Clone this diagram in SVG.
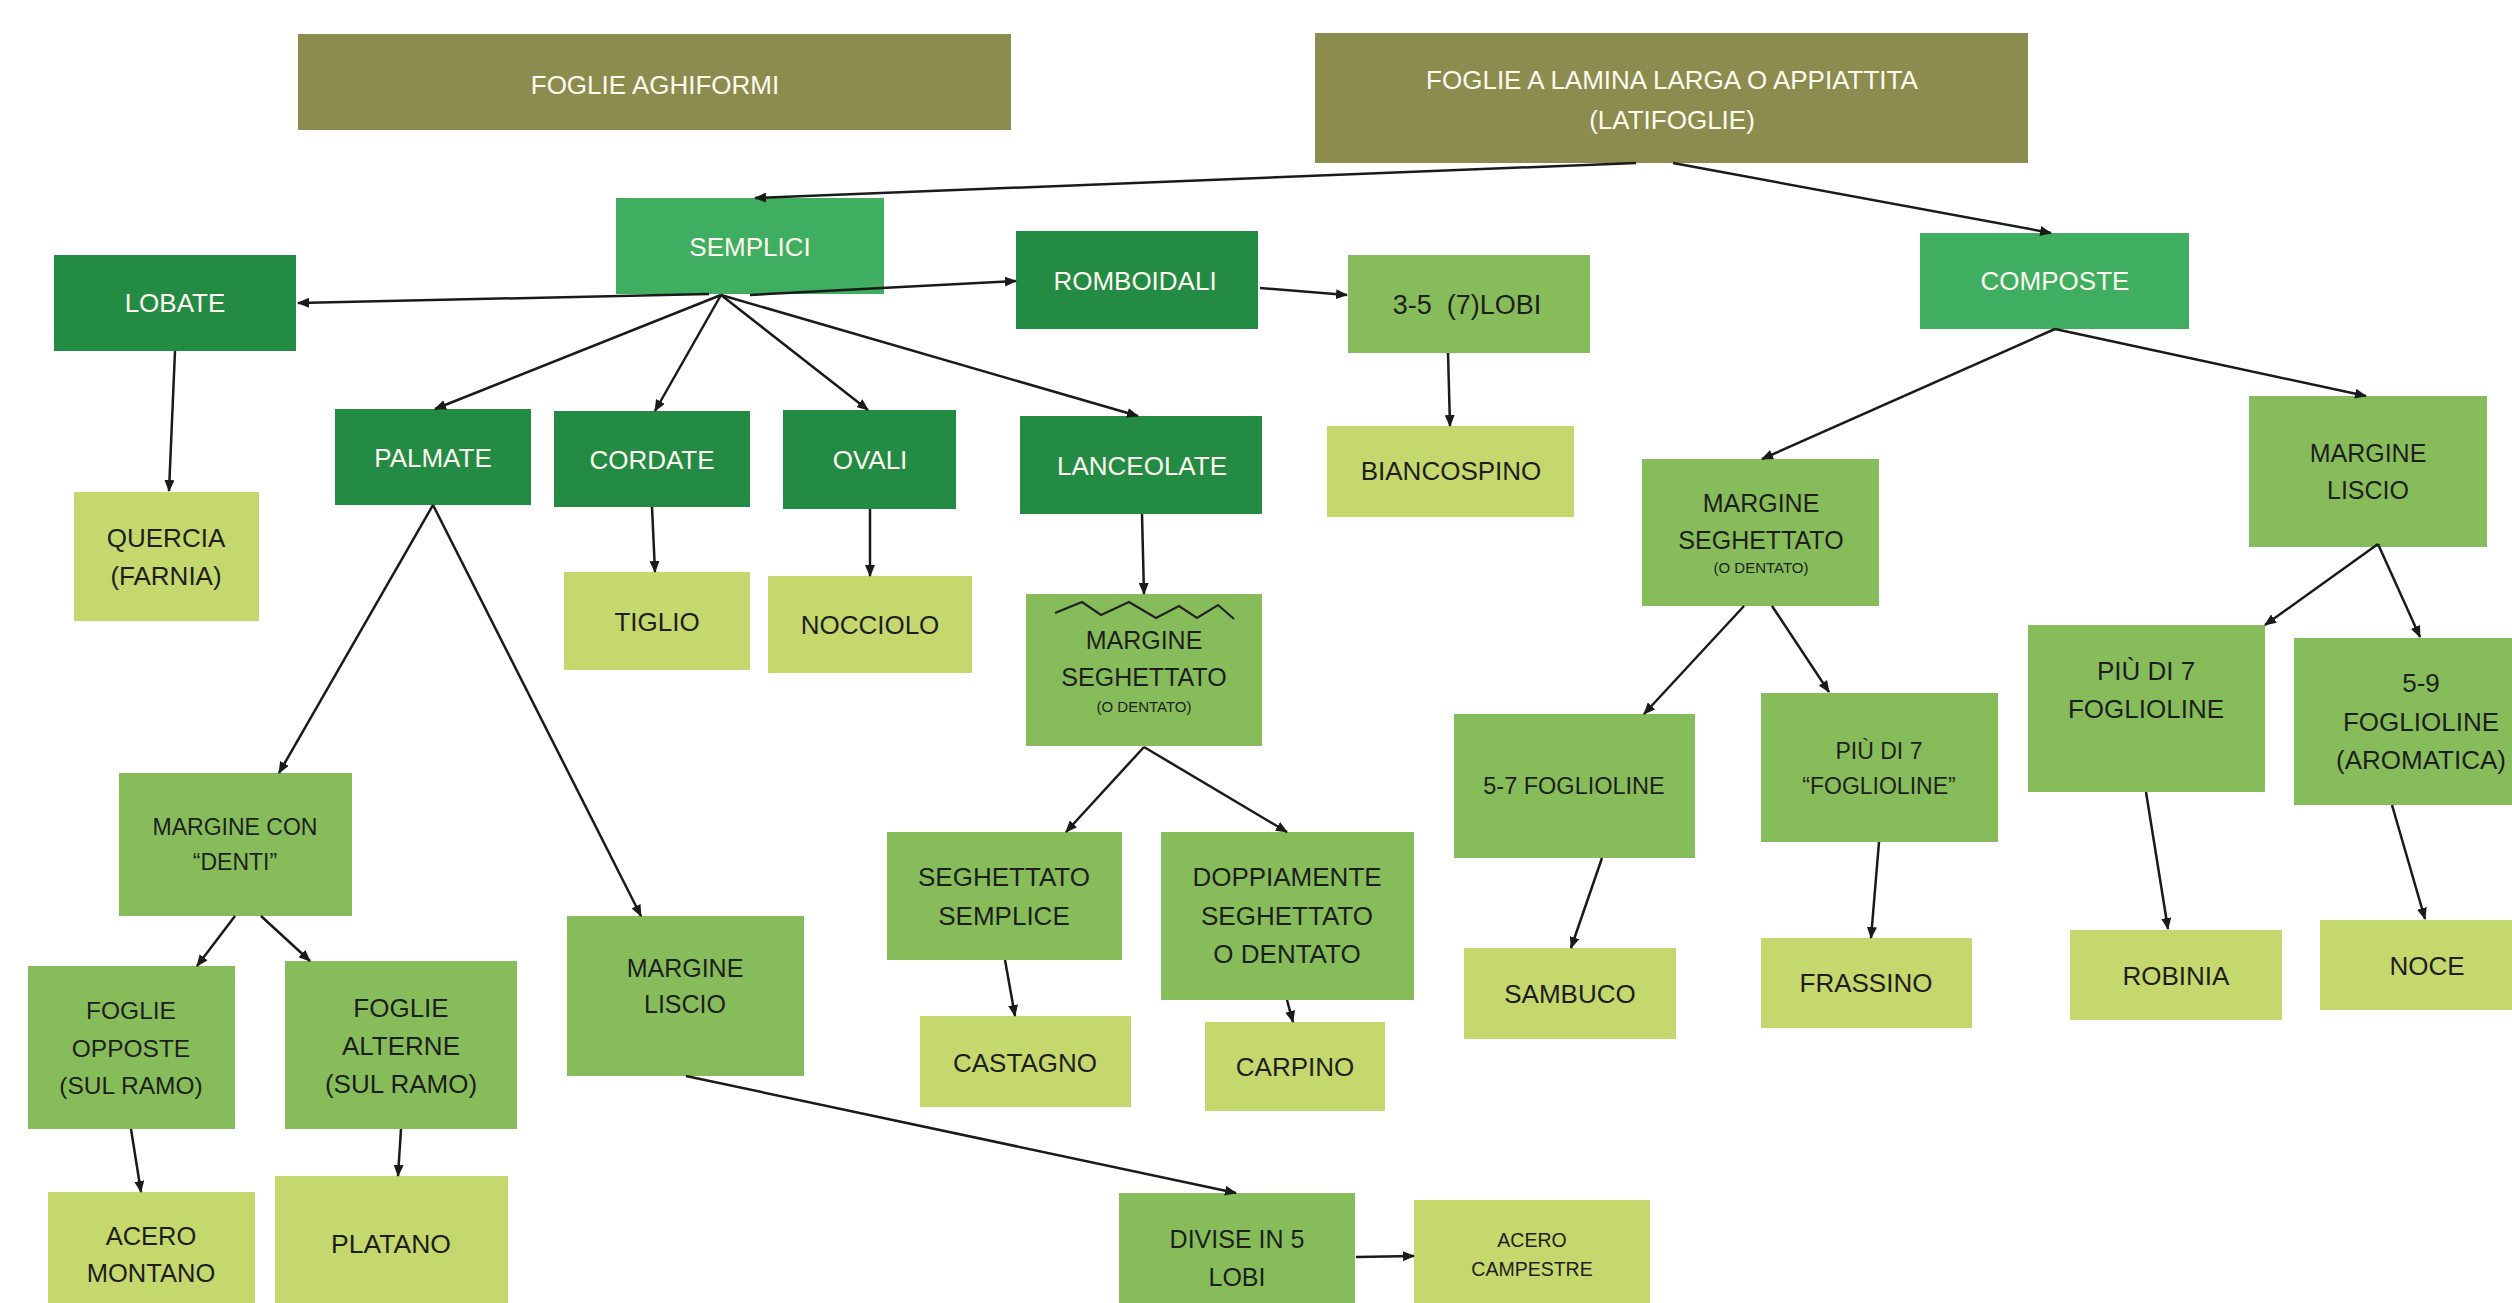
<svg xmlns="http://www.w3.org/2000/svg" width="2512" height="1303" viewBox="0 0 2512 1303">
<style>
text{font-family:"Liberation Sans",Arial,sans-serif;text-anchor:middle}
.w{fill:#fdfbf0;font-size:26px}
.d{fill:#1e1e1e;font-size:26px}
.olive{fill:#8c8c4e}
.mid{fill:#3fae61}
.dark{fill:#238b43}
.light{fill:#86bd5a}
.yel{fill:#c5d86d}
.sm{font-size:15px}
#connectors line{stroke:#1a1a1a;stroke-width:2.5;marker-end:url(#ah)}
</style>
<defs>
<marker id="ah" viewBox="0 0 12 10" markerUnits="userSpaceOnUse" markerWidth="12" markerHeight="10" refX="11" refY="5" orient="auto">
<path d="M0,0 L12,5 L0,10 Z" fill="#1a1a1a"/>
</marker>
</defs>
<rect width="2512" height="1303" fill="#ffffff"/>

<g id="aghiformi"><rect class="olive" x="298" y="34" width="713" height="96"/><text class="w" x="655" y="94">FOGLIE AGHIFORMI</text></g>
<g id="latifoglie"><rect class="olive" x="1315" y="33" width="713" height="130"/><text class="w" x="1672" y="89">FOGLIE A LAMINA LARGA O APPIATTITA</text><text class="w" x="1672" y="129">(LATIFOGLIE)</text></g>
<g id="semplici"><rect class="mid" x="616" y="198" width="268" height="96"/><text class="w" x="750" y="256">SEMPLICI</text></g>
<g id="romboidali"><rect class="dark" x="1016" y="231" width="242" height="98"/><text class="w" x="1135" y="290">ROMBOIDALI</text></g>
<g id="lobate"><rect class="dark" x="54" y="255" width="242" height="96"/><text class="w" x="175" y="312">LOBATE</text></g>
<g id="palmate"><rect class="dark" x="335" y="409" width="196" height="96"/><text class="w" x="433" y="467">PALMATE</text></g>
<g id="cordate"><rect class="dark" x="554" y="411" width="196" height="96"/><text class="w" x="652" y="469">CORDATE</text></g>
<g id="ovali"><rect class="dark" x="783" y="410" width="173" height="99"/><text class="w" x="870" y="469">OVALI</text></g>
<g id="lanceolate"><rect class="dark" x="1020" y="416" width="242" height="98"/><text class="w" x="1142" y="475">LANCEOLATE</text></g>
<g id="lobi35"><rect class="light" x="1348" y="255" width="242" height="98"/><text class="d" x="1467" y="314" xml:space="preserve" style="font-size:27px">3-5  (7)LOBI</text></g>
<g id="biancospino"><rect class="yel" x="1327" y="426" width="247" height="91"/><text class="d" x="1451" y="480">BIANCOSPINO</text></g>
<g id="composte"><rect class="mid" x="1920" y="233" width="269" height="96"/><text class="w" x="2055" y="290">COMPOSTE</text></g>
<g id="ms_right"><rect class="light" x="1642" y="459" width="237" height="147"/><text class="d" x="1761" y="512" style="font-size:25px">MARGINE</text><text class="d" x="1761" y="549" style="font-size:25px">SEGHETTATO</text><text class="d sm" x="1761" y="573">(O DENTATO)</text></g>
<g id="ml_right"><rect class="light" x="2249" y="396" width="238" height="151"/><text class="d" x="2368" y="462" style="font-size:25px">MARGINE</text><text class="d" x="2368" y="499" style="font-size:25px">LISCIO</text></g>
<g id="quercia"><rect class="yel" x="74" y="492" width="185" height="129"/><text class="d" x="166" y="547">QUERCIA</text><text class="d" x="166" y="585">(FARNIA)</text></g>
<g id="tiglio"><rect class="yel" x="564" y="572" width="186" height="98"/><text class="d" x="657" y="631">TIGLIO</text></g>
<g id="nocciolo"><rect class="yel" x="768" y="576" width="204" height="97"/><text class="d" x="870" y="634">NOCCIOLO</text></g>
<g id="ms_mid"><rect class="light" x="1026" y="594" width="236" height="152"/><polyline points="1055,613 1082,602 1101,615 1129,602 1156,618 1179,606 1197,618 1218,605 1234,619" fill="none" stroke="#222" stroke-width="2.2"/><text class="d" x="1144" y="649" style="font-size:25px">MARGINE</text><text class="d" x="1144" y="686" style="font-size:25px">SEGHETTATO</text><text class="d sm" x="1144" y="712">(O DENTATO)</text></g>
<g id="denti"><rect class="light" x="119" y="773" width="233" height="143"/><text class="d" x="235" y="835" style="font-size:23px">MARGINE CON</text><text class="d" x="235" y="870" style="font-size:23px">“DENTI”</text></g>
<g id="ml_left"><rect class="light" x="567" y="916" width="237" height="160"/><text class="d" x="685" y="977" style="font-size:25px">MARGINE</text><text class="d" x="685" y="1013" style="font-size:25px">LISCIO</text></g>
<g id="opposte"><rect class="light" x="28" y="966" width="207" height="163"/><text class="d" x="131" y="1019" style="font-size:24.5px">FOGLIE</text><text class="d" x="131" y="1057" style="font-size:24.5px">OPPOSTE</text><text class="d" x="131" y="1094" style="font-size:24.5px">(SUL RAMO)</text></g>
<g id="alterne"><rect class="light" x="285" y="961" width="232" height="168"/><text class="d" x="401" y="1017">FOGLIE</text><text class="d" x="401" y="1055">ALTERNE</text><text class="d" x="401" y="1093">(SUL RAMO)</text></g>
<g id="acero_montano"><rect class="yel" x="48" y="1192" width="207" height="120"/><text class="d" x="151" y="1245" style="font-size:25.5px">ACERO</text><text class="d" x="151" y="1282" style="font-size:25.5px">MONTANO</text></g>
<g id="platano"><rect class="yel" x="275" y="1176" width="233" height="135"/><text class="d" x="391" y="1253" style="font-size:26.5px">PLATANO</text></g>
<g id="ss"><rect class="light" x="887" y="832" width="235" height="128"/><text class="d" x="1004" y="886">SEGHETTATO</text><text class="d" x="1004" y="925">SEMPLICE</text></g>
<g id="dopp"><rect class="light" x="1161" y="832" width="253" height="168"/><text class="d" x="1287" y="886">DOPPIAMENTE</text><text class="d" x="1287" y="925">SEGHETTATO</text><text class="d" x="1287" y="963">O DENTATO</text></g>
<g id="castagno"><rect class="yel" x="920" y="1016" width="211" height="91"/><text class="d" x="1025" y="1072">CASTAGNO</text></g>
<g id="carpino"><rect class="yel" x="1205" y="1022" width="180" height="89"/><text class="d" x="1295" y="1076">CARPINO</text></g>
<g id="divise"><rect class="light" x="1119" y="1193" width="236" height="120"/><text class="d" x="1237" y="1248" style="font-size:25px">DIVISE IN 5</text><text class="d" x="1237" y="1286" style="font-size:25px">LOBI</text></g>
<g id="acero_campestre"><rect class="yel" x="1414" y="1200" width="236" height="110"/><text class="d" x="1532" y="1247" style="font-size:19.5px">ACERO</text><text class="d" x="1532" y="1276" style="font-size:19.5px">CAMPESTRE</text></g>
<g id="f57"><rect class="light" x="1454" y="714" width="241" height="144"/><text class="d" x="1574" y="794" style="font-size:23.5px">5-7 FOGLIOLINE</text></g>
<g id="p7q"><rect class="light" x="1761" y="693" width="237" height="149"/><text class="d" x="1879" y="759" style="font-size:23px">PIÙ DI 7</text><text class="d" x="1879" y="794" style="font-size:23px">“FOGLIOLINE”</text></g>
<g id="sambuco"><rect class="yel" x="1464" y="948" width="212" height="91"/><text class="d" x="1570" y="1003">SAMBUCO</text></g>
<g id="frassino"><rect class="yel" x="1761" y="938" width="211" height="90"/><text class="d" x="1866" y="992">FRASSINO</text></g>
<g id="p7f"><rect class="light" x="2028" y="625" width="237" height="167"/><text class="d" x="2146" y="680">PIÙ DI 7</text><text class="d" x="2146" y="718">FOGLIOLINE</text></g>
<g id="f59"><rect class="light" x="2294" y="638" width="254" height="167"/><text class="d" x="2421" y="692">5-9</text><text class="d" x="2421" y="731">FOGLIOLINE</text><text class="d" x="2421" y="769">(AROMATICA)</text></g>
<g id="robinia"><rect class="yel" x="2070" y="930" width="212" height="90"/><text class="d" x="2176" y="985">ROBINIA</text></g>
<g id="noce"><rect class="yel" x="2320" y="920" width="214" height="90"/><text class="d" x="2427" y="975">NOCE</text></g>

<g id="connectors">
<line x1="1636" y1="163" x2="755" y2="198"/>
<line x1="1673" y1="163" x2="2051" y2="233"/>
<line x1="709" y1="294" x2="298" y2="303"/>
<line x1="750" y1="295" x2="1016" y2="281"/>
<line x1="721" y1="295" x2="435" y2="409"/>
<line x1="721" y1="295" x2="655" y2="411"/>
<line x1="721" y1="295" x2="868" y2="410"/>
<line x1="721" y1="295" x2="1138" y2="416"/>
<line x1="1260" y1="288" x2="1347" y2="295"/>
<line x1="175" y1="351" x2="169" y2="491"/>
<line x1="1448" y1="353" x2="1450" y2="426"/>
<line x1="2055" y1="329" x2="1762" y2="459"/>
<line x1="2055" y1="329" x2="2366" y2="396"/>
<line x1="2378" y1="544" x2="2265" y2="625"/>
<line x1="2378" y1="544" x2="2420" y2="637"/>
<line x1="1744" y1="606" x2="1644" y2="714"/>
<line x1="1772" y1="606" x2="1829" y2="692"/>
<line x1="1602" y1="858" x2="1571" y2="948"/>
<line x1="1879" y1="842" x2="1871" y2="938"/>
<line x1="2146" y1="792" x2="2168" y2="929"/>
<line x1="2392" y1="805" x2="2425" y2="919"/>
<line x1="652" y1="507" x2="655" y2="572"/>
<line x1="870" y1="509" x2="870" y2="576"/>
<line x1="1142" y1="514" x2="1144" y2="594"/>
<line x1="433" y1="505" x2="279" y2="773"/>
<line x1="433" y1="505" x2="641" y2="916"/>
<line x1="235" y1="916" x2="197" y2="966"/>
<line x1="261" y1="916" x2="310" y2="961"/>
<line x1="131" y1="1129" x2="141" y2="1192"/>
<line x1="401" y1="1129" x2="398" y2="1176"/>
<line x1="686" y1="1076" x2="1236" y2="1193"/>
<line x1="1144" y1="747" x2="1066" y2="832"/>
<line x1="1144" y1="747" x2="1287" y2="832"/>
<line x1="1005" y1="960" x2="1015" y2="1016"/>
<line x1="1287" y1="1000" x2="1293" y2="1022"/>
<line x1="1356" y1="1257" x2="1414" y2="1256"/>
</g>
</svg>
